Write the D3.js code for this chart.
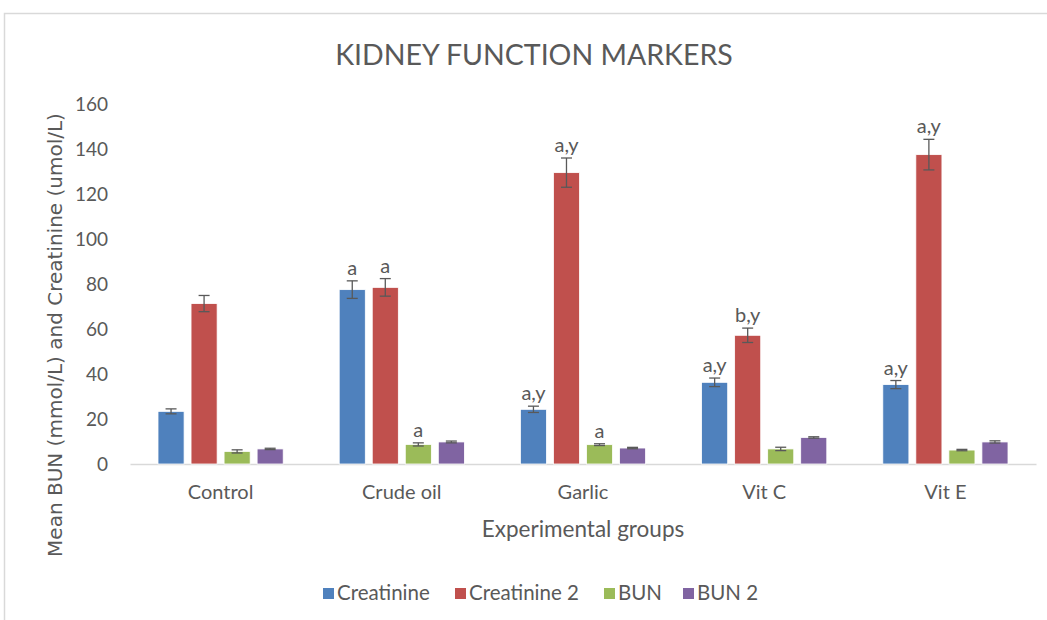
<!DOCTYPE html>
<html>
<head>
<meta charset="utf-8">
<script src="https://cdn.jsdelivr.net/npm/d3@7"></script>
<style>
  body { margin: 0; background: #fff; }
  text { font-family: Lato, "Open Sans", sans-serif; fill: #595959; }
</style>
</head>
<body>
<div class="chart"></div>
<script>
// groups and series
const groups = ['Control', 'Crude oil', 'Garlic', 'Vit C', 'Vit E'];
const seriesNames = ['Creatinine', 'Creatinine 2', 'BUN', 'BUN 2'];
const colors = ['#4f81bd', '#c0504d', '#9bbb59', '#8064a2'];

// values per series (one per group)
const creatinine  = [23.4, 77.5, 24.3, 36.3, 35.3];
const creatinine2 = [71.3, 78.5, 129.5, 57.2, 137.5];
const bun         = [5.6, 8.7, 8.6, 6.7, 6.2];
const bun2        = [6.7, 9.8, 7.1, 11.8, 9.8];

// error (+/-)
const creatinineErr  = [1.1, 3.9, 1.4, 1.9, 1.8];
const creatinine2Err = [3.6, 3.9, 6.5, 3.2, 6.8];
const bunErr         = [0.7, 0.7, 0.4, 0.75, 0.3];
const bun2Err        = [0.3, 0.4, 0.3, 0.3, 0.5];

// significance letters
const creatinineLbl  = ['', 'a', 'a,y', 'a,y', 'a,y'];
const creatinine2Lbl = ['', 'a', 'a,y', 'b,y', 'a,y'];
const bunLbl         = ['', 'a', 'a', '', ''];
const bun2Lbl        = ['', '', '', '', ''];

const yTicks = [0, 20, 40, 60, 80, 100, 120, 140, 160];

const values = [creatinine, creatinine2, bun, bun2];
const errs = [creatinineErr, creatinine2Err, bunErr, bun2Err];
const lbls = [creatinineLbl, creatinine2Lbl, bunLbl, bun2Lbl];

const W = 1047, H = 620;
const m = {left: 130, right: 11, top: 104, bottom: 156};

const svg = d3.select('.chart').append('svg')
  .attr('width', W).attr('height', H);

// chart frame
svg.append('rect')
  .attr('x', 4.5).attr('y', 13.5)
  .attr('width', 1200).attr('height', 800)
  .attr('fill', 'none').attr('stroke', '#d9d9d9').attr('stroke-width', 1.5);

const x0 = d3.scaleBand().domain(groups).range([m.left, W - m.right]);
const x1 = d3.scaleBand().domain(seriesNames)
  .range([28, x0.bandwidth() - 28]).paddingInner(0.21);
const y = d3.scaleLinear().domain([0, 160]).range([H - m.bottom, m.top]);

svg.append('text')
  .attr('x', 534).attr('y', 65)
  .attr('text-anchor', 'middle')
  .style('font-size', '28.5px')
  .text('KIDNEY FUNCTION MARKERS');

// y axis (labels only)
const yAxis = svg.append('g')
  .attr('transform', `translate(${m.left - 19},0)`)
  .call(d3.axisLeft(y).tickValues(yTicks).tickSize(0));
yAxis.select('.domain').remove();
yAxis.selectAll('text').style('font-size', '19px').attr('fill', '#595959').attr('dy', '0.35em');

// x axis
const xAxis = svg.append('g')
  .attr('transform', `translate(0,${y(0)})`)
  .call(d3.axisBottom(x0).tickSize(0).tickPadding(21));
xAxis.select('.domain').attr('stroke', '#d9d9d9').attr('stroke-width', 1.5);
xAxis.selectAll('text').style('font-size', '20px').attr('fill', '#595959');

const rows = [];
groups.forEach((g, gi) => {
  seriesNames.forEach((s, si) => {
    rows.push({g, s, si, v: values[si][gi], e: errs[si][gi], l: lbls[si][gi]});
  });
});

const bars = svg.append('g');
bars.selectAll('rect')
  .data(rows).enter().append('rect')
  .attr('x', d => x0(d.g) + x1(d.s))
  .attr('y', d => y(d.v))
  .attr('width', x1.bandwidth())
  .attr('height', d => y(0) - y(d.v))
  .attr('fill', d => colors[d.si])
  .attr('stroke', '#fff').attr('stroke-width', 0.8);

// error bars
const eb = svg.append('g').attr('stroke', '#595959').attr('stroke-width', 1.3);
rows.forEach(d => {
  const cx = x0(d.g) + x1(d.s) + x1.bandwidth() / 2;
  eb.append('line').attr('x1', cx).attr('x2', cx).attr('y1', y(d.v + d.e)).attr('y2', y(d.v - d.e));
  eb.append('line').attr('x1', cx - 5.5).attr('x2', cx + 5.5).attr('y1', y(d.v + d.e)).attr('y2', y(d.v + d.e));
  eb.append('line').attr('x1', cx - 5.5).attr('x2', cx + 5.5).attr('y1', y(d.v - d.e)).attr('y2', y(d.v - d.e));
});

// letters
svg.append('g').selectAll('text')
  .data(rows.filter(d => d.l)).enter().append('text')
  .attr('x', d => x0(d.g) + x1(d.s) + x1.bandwidth() / 2)
  .attr('y', d => y(d.v + d.e) - 6)
  .attr('text-anchor', 'middle')
  .style('font-size', '20px')
  .attr('fill', '#404040')
  .text(d => d.l);

// axis titles
svg.append('text')
  .attr('x', 583).attr('y', 537)
  .attr('text-anchor', 'middle')
  .style('font-size', '22.5px')
  .text('Experimental groups');

svg.append('text')
  .attr('transform', 'translate(62,335) rotate(-90)')
  .attr('text-anchor', 'middle')
  .style('font-family', '"DejaVu Sans", sans-serif')
  .style('font-size', '20px')
  .text('Mean BUN (mmol/L) and Creatinine (umol/L)');

// legend
const legX = [323, 455, 604, 683];
const leg = svg.append('g');
seriesNames.forEach((s, i) => {
  leg.append('rect').attr('x', legX[i]).attr('y', 588).attr('width', 11).attr('height', 11).attr('fill', colors[i]);
  leg.append('text').attr('x', legX[i] + 14).attr('y', 600).style('font-size', '20.5px').text(s);
});
</script>
</body>
</html>
